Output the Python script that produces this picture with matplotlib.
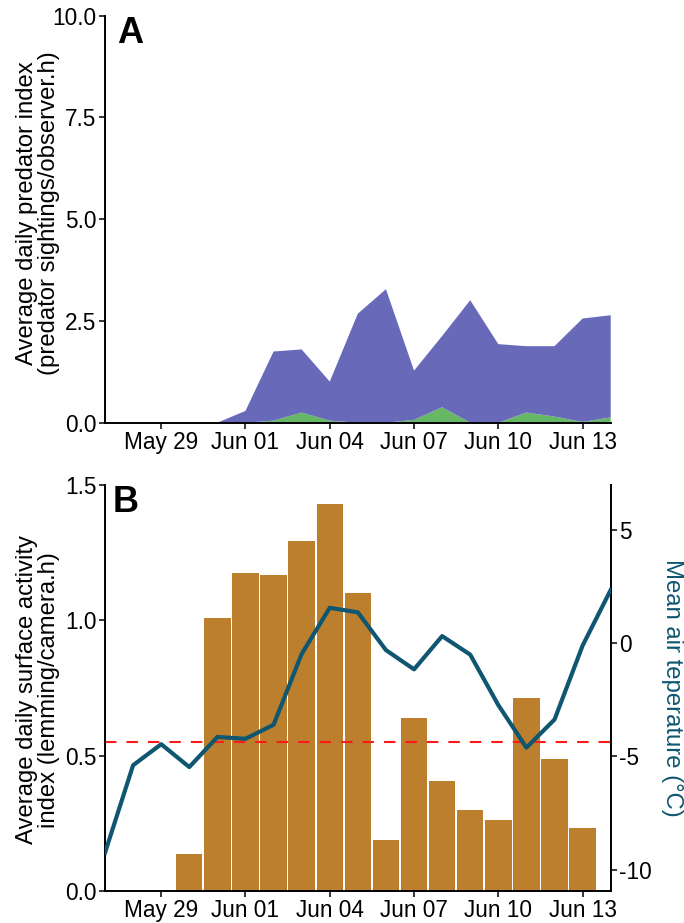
import numpy as np
import matplotlib
matplotlib.use("Agg")
import matplotlib.pyplot as plt
import matplotlib.dates as mdates
from datetime import datetime, timedelta

plt.rcParams['font.family'] = ['Liberation Sans', 'DejaVu Sans']
plt.rcParams['axes.unicode_minus'] = False

# ---- data ----
dates = [datetime(2019, 5, 27) + timedelta(days=i) for i in range(19)]  # May 27 .. Jun 14
predator_total = [0, 0, 0, 0, 0, 0.29, 1.75, 1.80, 1.01, 2.68, 3.28, 1.28, 2.13, 3.01, 1.93, 1.88, 1.88, 2.56, 2.64]
predator_green = [0, 0, 0, 0, 0, 0.0, 0.05, 0.25, 0.05, 0.0, 0.0, 0.07, 0.38, 0.0, 0.0, 0.25, 0.15, 0.02, 0.13]
predator_purple = [t - g for t, g in zip(predator_total, predator_green)]

bar_dates = [datetime(2019, 5, 30) + timedelta(days=i) for i in range(15)]  # May 30 .. Jun 13
lemming_activity = [0.138, 1.009, 1.174, 1.167, 1.293, 1.429, 1.100, 0.188, 0.638, 0.406, 0.298, 0.261, 0.712, 0.486, 0.232]
temperature = [-9.26, -5.39, -4.46, -5.47, -4.14, -4.22, -3.60, -0.47, 1.57, 1.37, -0.30, -1.15, 0.32, -0.50, -2.73, -4.61, -3.37, -0.10, 2.36]
threshold = 0.55

xticks = [datetime(2019, 5, 29) + timedelta(days=3 * i) for i in range(6)]
a_yticks = [0.0, 2.5, 5.0, 7.5, 10.0]
b_yticks = [0.0, 0.5, 1.0, 1.5]
t_yticks = [-10, -5, 0, 5]

PURPLE = '#6869b9'
GREEN = '#66b866'
BAR = '#bc7f2e'
LINE = '#0f5670'

fs_tick = 16.3
fs_lab = 17.2
fig = plt.figure(figsize=(6.84, 9.23), dpi=100)
W, H = 684, 923

def rect(l, t, r, b):
    return [l / W, 1 - b / H, (r - l) / W, (b - t) / H]

xmin, xmax = datetime(2019, 5, 27), datetime(2019, 6, 14)

# ---- Panel A ----
axA = fig.add_axes(rect(105, 15.7, 610.7, 422.7))
axA.stackplot(dates, predator_green, predator_purple, colors=[GREEN, PURPLE], linewidth=0)
axA.set_xlim(xmin, xmax)
axA.set_ylim(0, 10)
axA.set_yticks(a_yticks)
axA.set_yticklabels([f"{v:.1f}" for v in a_yticks])
fig.text(38 / W, 1 - 213 / H, "Average daily predator index\n(predator sightings/observer.h)",
         fontsize=fs_lab, rotation=90, ha='center', va='center', multialignment='center', linespacing=0.95)
axA.text(12 / 505.7, 1 - 0.6 / 407, "A", transform=axA.transAxes, fontsize=26, fontweight='bold', va='top', ha='left')

# ---- Panel B ----
axB = fig.add_axes(rect(105, 485, 610.7, 891))
axB.bar(bar_dates, lemming_activity, width=0.94, color=BAR, linewidth=0, zorder=2)
axB.axhline(threshold, color='#ff1a1a', linestyle=(0, (5.5, 4.8)), linewidth=1.5, zorder=4)
axB.set_xlim(xmin, xmax)
axB.set_ylim(0, 1.5)
axB.set_yticks(b_yticks)
axB.set_yticklabels([f"{v:.1f}" for v in b_yticks])
fig.text(38 / W, 1 - 690 / H, "Average daily surface activity\nindex (lemming/camera.h)",
         fontsize=fs_lab, rotation=90, ha='center', va='center', multialignment='center', linespacing=0.95)
axB.text(8 / 505.7, 1.0, "B", transform=axB.transAxes, fontsize=26, fontweight='bold', va='top', ha='left')

axT = axB.twinx()
axT.plot(dates, temperature, color=LINE, linewidth=3.0, zorder=5)
axT.set_ylim(-10.95, 7.0)
axT.set_yticks(t_yticks)
axT.set_yticklabels([str(v) for v in t_yticks])
fig.text(672 / W, 1 - 688 / H, "Mean air teperature (\u00b0C)", fontsize=fs_lab, color=LINE,
         rotation=270, ha='center', va='center')

for ax in (axA, axB):
    ax.spines['top'].set_visible(False)
    ax.spines['right'].set_visible(False)
    ax.set_xticks(xticks)
    ax.xaxis.set_major_formatter(mdates.DateFormatter("%b %d"))
    ax.tick_params(axis='both', labelsize=fs_tick, length=4.5, width=1.1, direction='out', pad=1.5)
    for s in ('left', 'bottom'):
        ax.spines[s].set_linewidth(1.4)
        ax.spines[s].set_zorder(6)
axT.spines['top'].set_visible(False)
axT.spines['left'].set_visible(False)
axT.spines['bottom'].set_visible(False)
axT.spines['right'].set_linewidth(1.4)
axT.tick_params(axis='y', labelsize=fs_tick, length=4.5, width=1.1, pad=1.5)

fig.savefig("out.png", dpi=100)
